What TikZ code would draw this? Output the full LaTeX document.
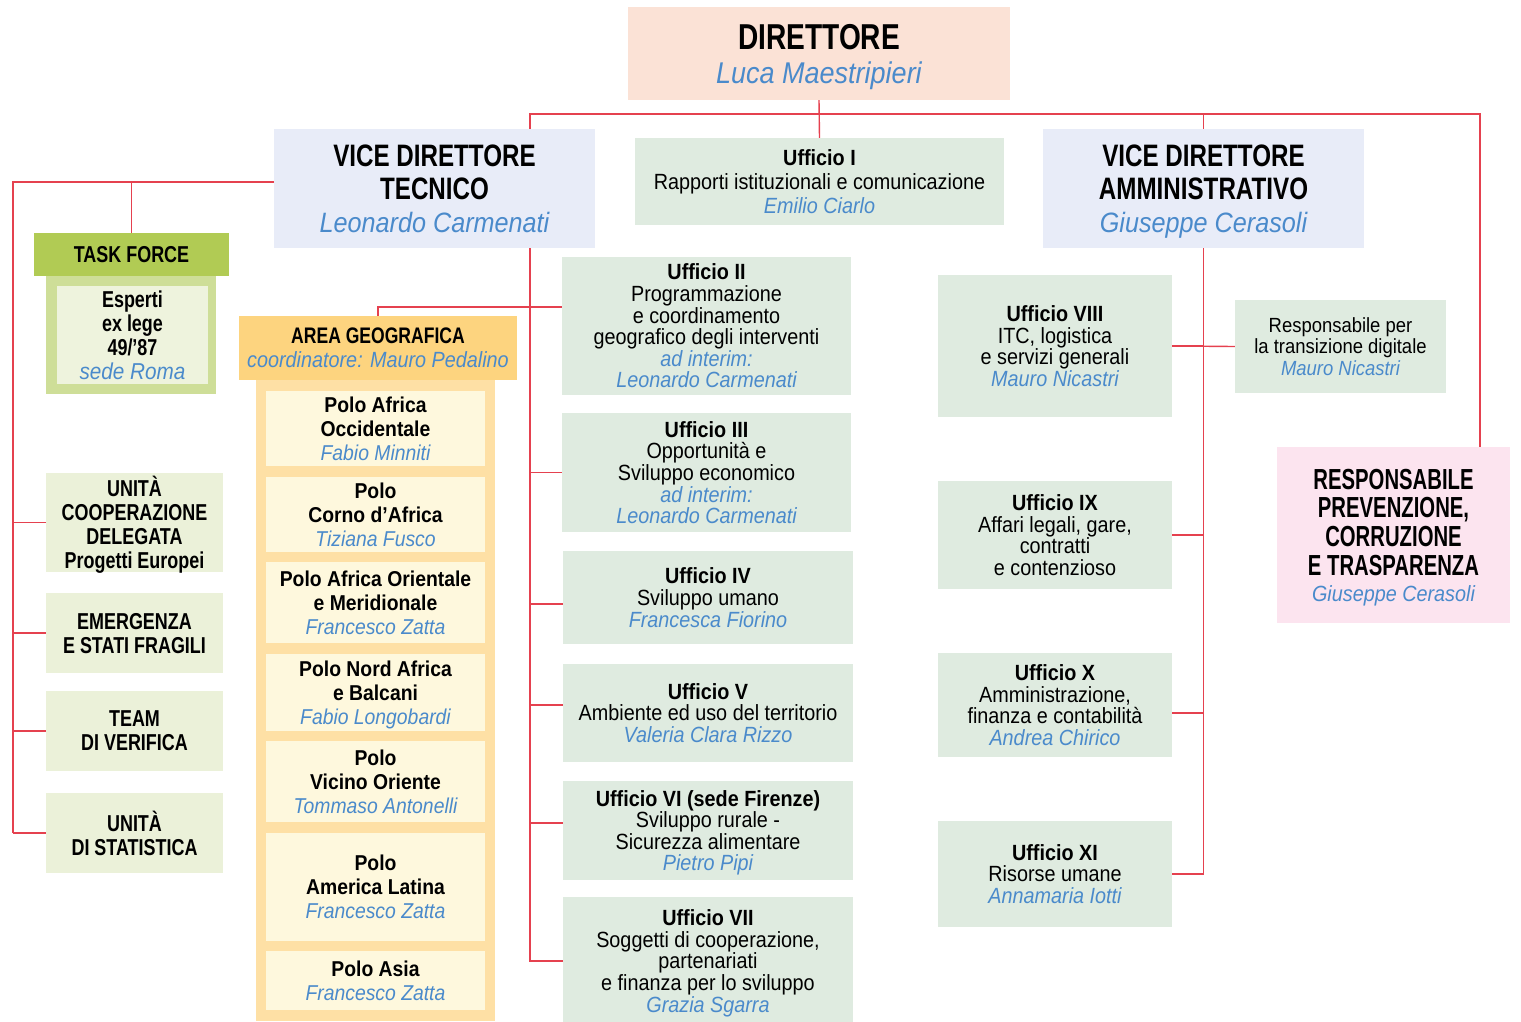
\documentclass[tikz,border=0pt]{standalone}
\usepackage{fontspec}
\setmainfont{Liberation Sans}[FakeStretch=0.9]
\newfontfamily\midfam{Liberation Sans}[FakeStretch=0.78]
\newfontfamily\condfam{Liberation Sans}[FakeStretch=0.7]
\usetikzlibrary{backgrounds}

\definecolor{linered}{HTML}{E5414F}
\definecolor{nameblue}{HTML}{4A8ACB}
\definecolor{dirfill}{HTML}{FBE2D6}
\definecolor{vicefill}{HTML}{E8ECF8}
\definecolor{officefill}{HTML}{DFEBE0}
\definecolor{taskhead}{HTML}{B1CB54}
\definecolor{taskbody}{HTML}{CEDE98}
\definecolor{taskinner}{HTML}{EEF3DD}
\definecolor{unitfill}{HTML}{EBF1D9}
\definecolor{areahead}{HTML}{FDD47F}
\definecolor{areabody}{HTML}{FEE0A5}
\definecolor{polofill}{HTML}{FEF8DD}
\definecolor{rpcfill}{HTML}{FCE4EF}

\newcommand{\nm}[1]{{\normalfont\itshape\color{nameblue}#1}}
\newcommand{\ttl}[2][31]{{\midfam\bfseries\fontsize{#1}{#1}\selectfont #2}}
\newcommand{\rtl}[1]{{\condfam\bfseries\fontsize{29}{29}\selectfont #1}}

\begin{document}
\begin{tikzpicture}[x=1pt,y=-1pt,
  box/.style={inner sep=0pt, align=center, text depth=0pt, font=\fontsize{22}{21.6}\selectfont},
  office/.style={box, fill=officefill},
  vice/.style={box, fill=vicefill, minimum width=321pt, minimum height=119pt, font=\fontsize{28}{33}\selectfont},
  unit/.style={box, fill=unitfill, minimum width=177pt, font=\midfam\bfseries\fontsize{23}{24}\selectfont},
  polo/.style={box, fill=polofill, minimum width=219pt, font=\bfseries\fontsize{21.5}{24}\selectfont},
  link/.style={draw=linered, line width=1.4pt}]
  \useasboundingbox (0,0) rectangle (1521,1021);

  \node[box, fill=dirfill, minimum width=382pt, minimum height=93pt, font=\fontsize{30}{34}\selectfont] (dir) at (819,53.5) {\ttl[36]{DIRETTORE}\\\nm{Luca Maestripieri}};
  \node[vice] (vdt) at (434.5,188.5) {\ttl{VICE DIRETTORE}\\\ttl{TECNICO}\\\nm{Leonardo Carmenati}};
  \node[vice] (vda) at (1203.5,188.5) {\ttl{VICE DIRETTORE}\\\ttl{AMMINISTRATIVO}\\\nm{Giuseppe Cerasoli}};
  \node[office, minimum width=369pt, minimum height=87pt, font=\fontsize{22}{24}\selectfont] (uff1) at (819.5,181.5) {\textbf{Ufficio I}\\Rapporti istituzionali e comunicazione\\\nm{Emilio Ciarlo}};

  \node[box, fill=taskhead, minimum width=195pt, minimum height=43pt, font=\midfam\bfseries\fontsize{23}{24}\selectfont] (tf) at (131.5,254.5) {TASK FORCE};
  \node[box, fill=taskbody, minimum width=170pt, minimum height=118pt] (tfbody) at (131,335) {};
  \node[box, fill=taskinner, minimum width=151pt, minimum height=98pt, font=\midfam\bfseries\fontsize{23}{24}\selectfont] (tfinner) at (132.5,335) {Esperti\\ex lege\\49/’87\\\nm{sede Roma}};

  \node[unit, minimum height=99pt] (unit1) at (134.5,522.5) {UNITÀ\\COOPERAZIONE\\DELEGATA\\Progetti Europei};
  \node[unit, minimum height=80pt] (unit2) at (134.5,633) {EMERGENZA\\E STATI FRAGILI};
  \node[unit, minimum height=80pt] (unit3) at (134.5,731) {TEAM\\DI VERIFICA};
  \node[unit, minimum height=80pt] (unit4) at (134.5,833) {UNITÀ\\DI STATISTICA};

  \node[box, fill=areahead, minimum width=278pt, minimum height=64pt, font=\fontsize{22}{24}\selectfont] (area) at (378,348) {\ttl[22.5]{AREA GEOGRAFICA}\\\nm{coordinatore: Mauro Pedalino}};
  \node[box, fill=areabody, minimum width=239pt, minimum height=641pt] (areabody) at (375.5,700.5) {};
  \node[polo, minimum height=75pt] (polo1) at (375.5,428.5) {Polo Africa\\Occidentale\\\nm{Fabio Minniti}};
  \node[polo, minimum height=75pt] (polo2) at (375.5,514.5) {Polo\\Corno d’Africa\\\nm{Tiziana Fusco}};
  \node[polo, minimum height=81pt] (polo3) at (375.5,602.5) {Polo Africa Orientale\\e Meridionale\\\nm{Francesco Zatta}};
  \node[polo, minimum height=77pt] (polo4) at (375.5,692.5) {Polo Nord Africa\\e Balcani\\\nm{Fabio Longobardi}};
  \node[polo, minimum height=81pt] (polo5) at (375.5,781.5) {Polo\\Vicino Oriente\\\nm{Tommaso Antonelli}};
  \node[polo, minimum height=108pt] (polo6) at (375.5,887) {Polo\\America Latina\\\nm{Francesco Zatta}};
  \node[polo, minimum height=59pt] (polo7) at (375.5,980.5) {Polo Asia\\\nm{Francesco Zatta}};

  \node[office, minimum width=289pt, minimum height=138pt] (uff2) at (706.5,326) {\textbf{Ufficio II}\\Programmazione\\e coordinamento\\geografico degli interventi\\\nm{ad interim:}\\\nm{Leonardo Carmenati}};
  \node[office, minimum width=289pt, minimum height=119pt] (uff3) at (706.5,472.5) {\textbf{Ufficio III}\\Opportunità e\\Sviluppo economico\\\nm{ad interim:}\\\nm{Leonardo Carmenati}};
  \node[office, minimum width=290pt, minimum height=93pt] (uff4) at (708,597.5) {\textbf{Ufficio IV}\\Sviluppo umano\\\nm{Francesca Fiorino}};
  \node[office, minimum width=290pt, minimum height=98pt] (uff5) at (708,713) {\textbf{Ufficio V}\\Ambiente ed uso del territorio\\\nm{Valeria Clara Rizzo}};
  \node[office, minimum width=290pt, minimum height=99pt] (uff6) at (708,830.5) {\textbf{Ufficio VI (sede Firenze)}\\Sviluppo rurale -\\Sicurezza alimentare\\\nm{Pietro Pipi}};
  \node[office, minimum width=290pt, minimum height=128pt] (uff7) at (708,961) {\textbf{Ufficio VII}\\Soggetti di cooperazione,\\partenariati\\e finanza per lo sviluppo\\\nm{Grazia Sgarra}};

  \node[office, minimum width=234pt, minimum height=142pt] (uff8) at (1055,346) {\textbf{Ufficio VIII}\\ITC, logistica\\e servizi generali\\\nm{Mauro Nicastri}};
  \node[office, minimum width=211pt, minimum height=93pt, font=\fontsize{20.5}{21.6}\selectfont] (rtd) at (1340.5,346.5) {Responsabile per\\la transizione digitale\\\nm{Mauro Nicastri}};
  \node[office, minimum width=234pt, minimum height=108pt] (uff9) at (1055,535) {\textbf{Ufficio IX}\\Affari legali, gare,\\contratti\\e contenzioso};
  \node[office, minimum width=234pt, minimum height=104pt] (uff10) at (1055,705) {\textbf{Ufficio X}\\Amministrazione,\\finanza e contabilità\\\nm{Andrea Chirico}};
  \node[office, minimum width=234pt, minimum height=106pt] (uff11) at (1055,874) {\textbf{Ufficio XI}\\Risorse umane\\\nm{Annamaria Iotti}};

  \node[box, fill=rpcfill, minimum width=233pt, minimum height=176pt, font=\fontsize{22}{28.7}\selectfont] (rpc) at (1393.5,535) {\rtl{RESPONSABILE}\\\rtl{PREVENZIONE,}\\\rtl{CORRUZIONE}\\\rtl{E TRASPARENZA}\\[-3pt]\nm{Giuseppe Cerasoli}};

  \coordinate (tspine) at (530,114);
  \coordinate (rspine) at (1480,114);
  \coordinate (lspine) at (13,182);

  \begin{scope}[on background layer]
    \draw[link] (dir.south) -- (uff1.north);
    \draw[link] (tspine |- vdt.north) -- (tspine) -- (rspine) -- (rspine |- rpc.north);
    \draw[link] (vda.north) -- (vda.north |- tspine);
    \draw[link] ([yshift=6.5pt]vdt.west) -- (lspine) -- (lspine |- unit4.west);
    \draw[link] (tf.north) -- (tf.north |- lspine);
    \foreach \u in {unit1,unit2,unit3,unit4}
      \draw[link] (\u.west) -- (lspine |- \u.west);
    \draw[link] (tspine |- vdt.south) -- (tspine |- uff7.west);
    \draw[link] ([yshift=19pt]uff2.west) -| (area.north);
    \foreach \o/\s in {uff3/0,uff4/-6.5,uff5/8,uff6/7.5,uff7/0}
      \draw[link] ([yshift=\s pt]\o.west) -| (tspine);
    \draw[link] (vda.south) -- (vda.south |- uff11.east);
    \foreach \o/\s in {uff8/0,uff9/0,uff10/-8,uff11/0}
      \draw[link] ([yshift=\s pt]\o.east) -| (vda.south);
    \draw[link] (uff8.east) -- (rtd.west);
  \end{scope}
\end{tikzpicture}
\end{document}
